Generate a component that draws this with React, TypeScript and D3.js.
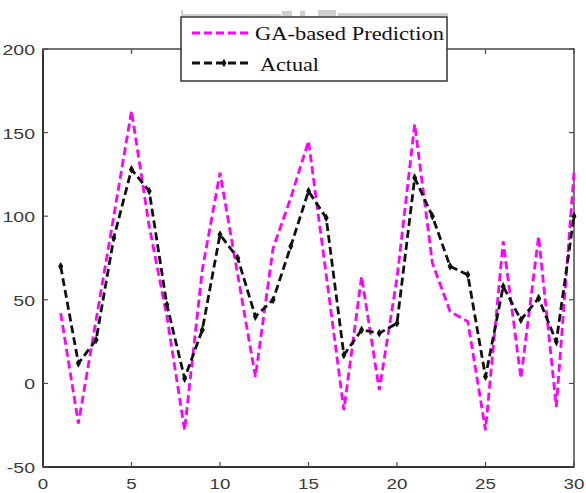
import React from 'react';
import * as d3 from 'd3';

// sample index 1..30
const samples = d3.range(1, 31);

const gaPrediction = [42, -24, 38, 100, 163, 94, 40, -28, 68, 126, 65, 4, 81, 111, 145, 65, -16, 64, -4, 63, 155, 72, 43, 37, -28, 85, 3, 88, -14, 126];
const actual = [70, 12, 26, 87, 128, 115, 47, 3, 32, 89, 75, 40, 50, 82, 115, 99, 17, 32, 30, 36, 123, 100, 70, 65, 4, 58, 38, 51, 25, 100];

const xTicks = [0, 5, 10, 15, 20, 25, 30];
const yTicks = [-50, 0, 50, 100, 150, 200];
const legendLabels = ['GA-based Prediction', 'Actual'];

const W = 586;
const H = 493;
const m = { left: 43, right: 12, top: 49, bottom: 26 };

export default function App() {
  const x = d3.scaleLinear().domain([0, 30]).range([m.left, W - m.right]);
  const y = d3.scaleLinear().domain([-50, 200]).range([H - m.bottom, m.top]);

  const line = d3
    .line<number>()
    .x((d, i) => x(samples[i]))
    .y((d) => y(d));

  const marker = d3.symbol().type(d3.symbolDiamond).size(22)();
  const axisColor = '#4a4a4a';
  const x0 = x(0);
  const x1 = x(30);
  const yTop = y(200);
  const yBot = y(-50);

  // legend box
  const lg = { x: 181, y: 17, w: 266, h: 64 };
  const tickFont = { fontFamily: 'Liberation Sans, Arial', fontSize: 15, fill: '#3a3a3a' };

  return (
    <svg width={W} height={H} style={{ position: 'absolute', left: 0, top: 0, background: '#fff' }}>
      {/* faint scan remnants above legend */}
      <g fill="#cfcfcf">
        <rect x={181} y={14} width={100} height={2} />
        <rect x={282} y={11} width={10} height={5} />
        <rect x={300} y={11} width={5} height={5} />
        <rect x={318} y={10} width={18} height={6} />
        <rect x={338} y={13} width={110} height={3} />
        <rect x={181} y={10} width={2} height={7} />
      </g>

      {/* plot box */}
      <rect x={x0} y={yTop} width={x1 - x0} height={yBot - yTop} fill="none" stroke={axisColor} strokeWidth={1.5} />
      <line x1={x0} x2={x0} y1={yTop} y2={yBot} stroke="#333" strokeWidth={2} />
      <line x1={x0} x2={x1} y1={yBot} y2={yBot} stroke="#333" strokeWidth={2} />

      {/* ticks */}
      {xTicks.map((t) => (
        <g key={'xt' + t}>
          <line x1={x(t)} x2={x(t)} y1={yBot} y2={yBot - 5} stroke={axisColor} strokeWidth={1.2} />
          <line x1={x(t)} x2={x(t)} y1={yTop} y2={yTop + 5} stroke={axisColor} strokeWidth={1.2} />
          <text transform={`translate(${x(t)},${H - 4}) scale(1.25,1)`} textAnchor="middle" {...tickFont}>
            {t}
          </text>
        </g>
      ))}
      {yTicks.map((t) => (
        <g key={'yt' + t}>
          <line x1={x0} x2={x0 + 5} y1={y(t)} y2={y(t)} stroke={axisColor} strokeWidth={1.2} />
          <line x1={x1} x2={x1 - 5} y1={y(t)} y2={y(t)} stroke={axisColor} strokeWidth={1.2} />
          <text transform={`translate(35,${y(t) + 6}) scale(1.3,1)`} textAnchor="end" {...tickFont}>
            {t}
          </text>
        </g>
      ))}

      {/* series */}
      <path d={line(gaPrediction) || ''} fill="none" stroke="#ff00ff" strokeWidth={2.8} strokeDasharray="8 4" />
      <path d={line(actual) || ''} fill="none" stroke="#111" strokeWidth={2.8} strokeDasharray="8 4" />
      {actual.map((v, i) => (
        <path key={'m' + i} d={marker || ''} transform={`translate(${x(samples[i])},${y(v)})`} fill="#111" />
      ))}

      {/* legend */}
      <rect x={lg.x} y={lg.y} width={lg.w} height={lg.h} fill="#fff" stroke="#333" strokeWidth={1.5} />
      <line x1={192} x2={251} y1={33} y2={33} stroke="#ff00ff" strokeWidth={2.8} strokeDasharray="8 4" />
      <text x={255} y={40} fontFamily="Liberation Serif, Times New Roman" fontSize={19} fill="#111" textLength={189} lengthAdjust="spacingAndGlyphs">
        {legendLabels[0]}
      </text>
      <line x1={192} x2={251} y1={63} y2={63} stroke="#111" strokeWidth={2.8} strokeDasharray="8 4" />
      <path d={marker || ''} transform="translate(224,63)" fill="#111" />
      <text x={260} y={71} fontFamily="Liberation Serif, Times New Roman" fontSize={19} fill="#111" textLength={59} lengthAdjust="spacingAndGlyphs">
        {legendLabels[1]}
      </text>
    </svg>
  );
}
